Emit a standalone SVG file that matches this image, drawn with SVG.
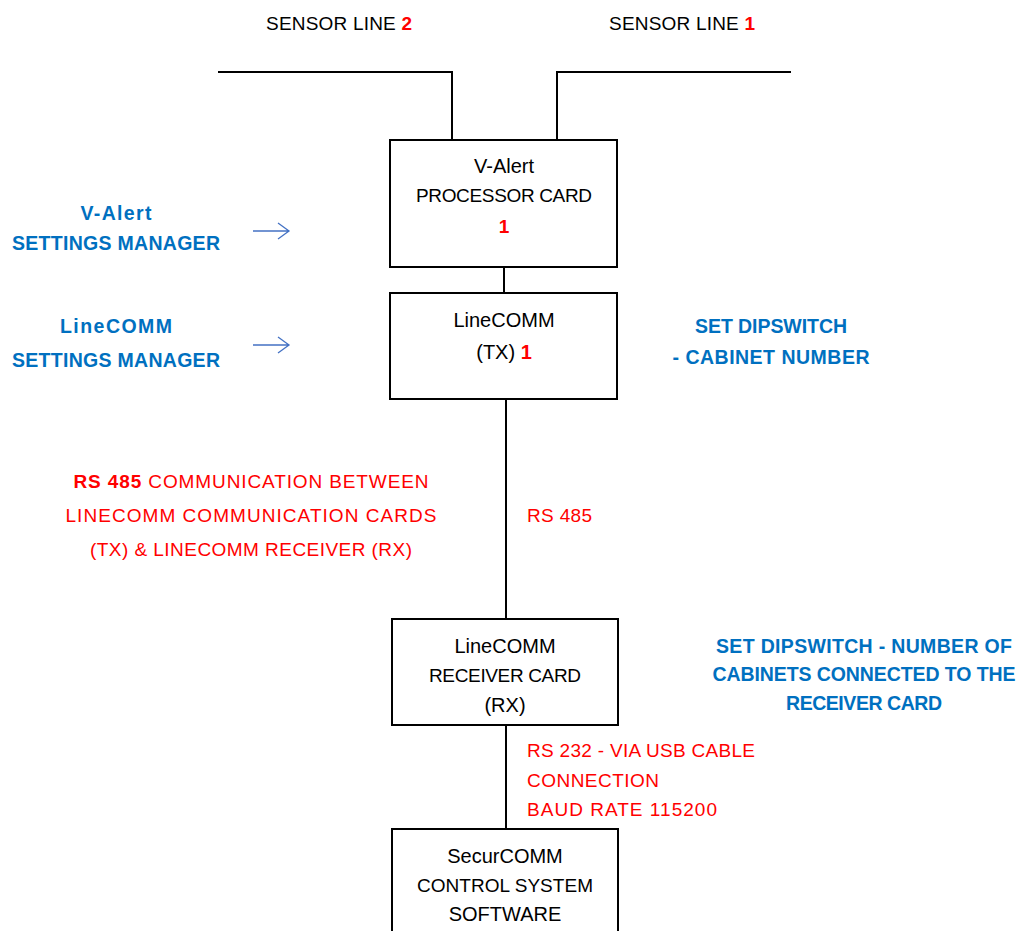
<svg xmlns="http://www.w3.org/2000/svg" width="1024" height="931" viewBox="0 0 1024 931">
<style>
text{font-family:"Liberation Sans",Arial,sans-serif;font-size:19px;fill:#000}
.c{text-anchor:middle}
.red{fill:#FF0000}
.b{font-weight:bold}
.blue{fill:#0070C0;font-weight:bold;font-size:19.5px}
.box{fill:#fff;stroke:#000;stroke-width:2}
.wire{fill:none;stroke:#000;stroke-width:2}
.arr{fill:none;stroke:#4472C4;stroke-width:1.3}
.big{font-size:20px}
</style>
<rect width="1024" height="931" fill="#fff"/>
<g id="connectors">
<polyline class="wire" points="218,72 452,72 452,140"/>
<polyline class="wire" points="791,72 557,72 557,140"/>
<line class="wire" x1="504" y1="267" x2="504" y2="293"/>
<line class="wire" x1="506" y1="399" x2="506" y2="619"/>
<line class="wire" x1="506" y1="725" x2="506" y2="829"/>
<path class="arr" d="M253,231 H289 M278,223 L289,231 L278,239"/>
<path class="arr" d="M253,345 H289 M278,337 L289,345 L278,353"/>
</g>
<g id="sensor-line-2"><text class="c" x="339" y="30" textLength="146">SENSOR LINE <tspan class="red b">2</tspan></text></g>
<g id="sensor-line-1"><text class="c" x="682" y="30" textLength="146">SENSOR LINE <tspan class="red b">1</tspan></text></g>
<g id="valert-processor">
<rect class="box" x="390" y="140" width="227" height="127"/>
<text class="c big" x="504" y="173">V-Alert</text>
<text class="c" x="504" y="202" textLength="176">PROCESSOR CARD</text>
<text class="c red b" x="504" y="233">1</text>
</g>
<g id="linecomm-tx">
<rect class="box" x="390" y="293" width="227" height="106"/>
<text class="c big" x="504" y="327">LineCOMM</text>
<text class="c big" x="504" y="359">(TX) <tspan class="red b">1</tspan></text>
</g>
<g id="linecomm-rx">
<rect class="box" x="392" y="619" width="226" height="106"/>
<text class="c big" x="505" y="653">LineCOMM</text>
<text class="c" x="505" y="682" textLength="152">RECEIVER CARD</text>
<text class="c big" x="505" y="712">(RX)</text>
</g>
<g id="securcomm">
<rect class="box" x="392" y="829" width="226" height="120"/>
<text class="c big" x="505" y="863">SecurCOMM</text>
<text class="c" x="505" y="892" textLength="176">CONTROL SYSTEM</text>
<text class="c big" x="505" y="921">SOFTWARE</text>
</g>
<g id="valert-settings">
<text class="c blue" x="116" y="220" textLength="71">V-Alert</text>
<text class="c blue" x="116" y="250" textLength="208">SETTINGS MANAGER</text>
</g>
<g id="linecomm-settings">
<text class="c blue" x="116" y="333" textLength="112">LineCOMM</text>
<text class="c blue" x="116" y="367" textLength="208">SETTINGS MANAGER</text>
</g>
<g id="dipswitch-tx">
<text class="c blue" x="771" y="333" textLength="152">SET DIPSWITCH</text>
<text class="c blue" x="771" y="364" textLength="197">- CABINET NUMBER</text>
</g>
<g id="rs485-note">
<text class="c red" x="251" y="488" textLength="355"><tspan class="b">RS 485</tspan> COMMUNICATION BETWEEN</text>
<text class="c red" x="251" y="522" textLength="371">LINECOMM COMMUNICATION CARDS</text>
<text class="c red" x="251" y="556" textLength="322">(TX) &amp; LINECOMM RECEIVER (RX)</text>
</g>
<g id="rs485-label"><text class="red" x="527" y="522" textLength="65">RS 485</text></g>
<g id="dipswitch-rx">
<text class="c blue" x="864" y="653" textLength="296">SET DIPSWITCH - NUMBER OF</text>
<text class="c blue" x="864" y="681" textLength="303">CABINETS CONNECTED TO THE</text>
<text class="c blue" x="864" y="710" textLength="156">RECEIVER CARD</text>
</g>
<g id="rs232-label">
<text class="red" x="527" y="757" textLength="228">RS 232 - VIA USB CABLE</text>
<text class="red" x="527" y="787" textLength="132">CONNECTION</text>
<text class="red" x="527" y="816" textLength="190">BAUD RATE 115200</text>
</g>
</svg>
